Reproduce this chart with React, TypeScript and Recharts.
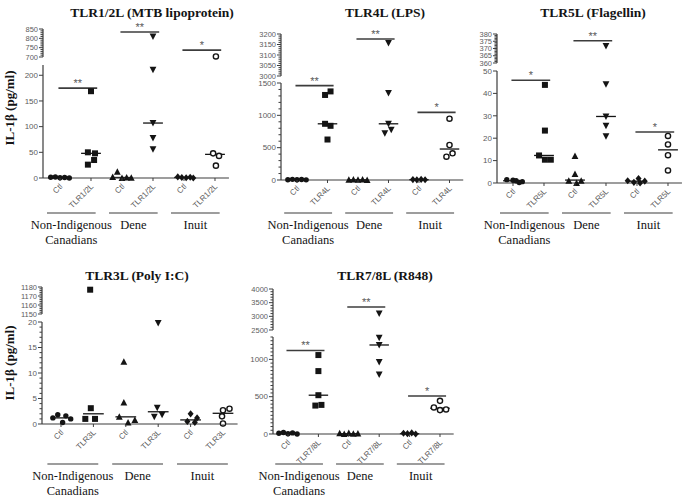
import React from "react";
import { ReferenceLine, Scatter, ScatterChart, XAxis, YAxis } from "recharts";

const INK = "#141414";
const AXIS = "#3c3c3c";
const LABEL = "#5c5c5c";
const SERIF = "'Liberation Serif', 'Times New Roman', serif";
const SANS = "'Liberation Sans', Arial, sans-serif";

const GROUPS = [["Non-Indigenous", "Canadians"], ["Dene"], ["Inuit"]];
const COLUMNS = [0, 1, 2, 3, 4, 5];
// Ctl / agonist for Non-Indigenous, Dene, Inuit
const MARKERS = ["dot", "square", "triangle", "down", "diamond", "ring"];
const X_END = 5.45;
const Y_W = 40;

// TLR1/2L (MTB lipoprotein)
const tlr12Values = [
  [1.5, 2, 0.5, 1, 0],
  [169, 50, 48, 35, 26],
  [12, 2, 0, 1, 0.5],
  [810, 211, 107, 78, 56],
  [2, 1, 0.5, 1.5, 0],
  [703, 48, 43, 24],
];
const tlr12Jitter = [
  [-0.3, -0.15, 0, 0.15, 0.3],
  [0, -0.1, 0.13, 0.1, -0.1],
  [-0.15, -0.3, 0, 0.15, 0.3],
  [0, 0, 0, 0, 0],
  [-0.2, -0.07, 0.07, 0.2, 0.3],
  [0.03, -0.06, 0.13, 0.03],
];
const tlr12Medians = [1, 48, 1, 107, 1, 46];
const tlr12Sig = [175, 834, 737];
const tlr12Stars = ["**", "**", "*"];
const tlr12UpperTicks = [700, 750, 800, 850];
const tlr12LowerTicks = [0, 50, 100, 150, 200];

// TLR4L (LPS)
const tlr4Values = [
  [5, 10, 3, 8, 2],
  [1370, 1315, 869, 838, 626],
  [4, 8, 2, 6, 0],
  [3157, 1345, 869, 776, 724],
  [6, 3, 9, 4],
  [948, 541, 413, 360],
];
const tlr4Jitter = [
  [-0.3, -0.15, 0, 0.15, 0.3],
  [0.1, -0.08, -0.08, 0.1, 0],
  [-0.3, -0.15, 0, 0.15, 0.3],
  [0, 0, 0, 0.09, -0.12],
  [-0.2, -0.07, 0.07, 0.2],
  [0, 0, 0.1, -0.1],
];
const tlr4Medians = [5, 869, 4, 869, 5, 479];
const tlr4Sig = [1459, 3176, 1046];
const tlr4Stars = ["**", "**", "*"];
const tlr4UpperTicks = [3000, 3050, 3100, 3150, 3200];
const tlr4LowerTicks = [0, 500, 1000, 1500];

// TLR5L (Flagellin)
const tlr5Values = [
  [1.5, 1.2, 1.0, 0.6, 0.2],
  [43.8, 23.4, 12.3, 10.4, 10.4],
  [12, 4, 1, 1, 0],
  [371.8, 44.1, 29.7, 25.6, 20.9],
  [1.0, 2.0, 0.3, 0, 0.8],
  [21, 17.2, 12.4, 5.6],
];
const tlr5Jitter = [
  [-0.2, 0, 0.1, 0.3, 0.2],
  [0.03, 0.03, -0.16, 0.03, 0.22],
  [0, 0, -0.2, 0.2, 0.05],
  [0, 0, 0, 0, 0],
  [-0.3, 0.05, -0.1, 0.1, 0.25],
  [0, 0, 0, 0],
];
const tlr5Medians = [1.0, 12.3, 1.3, 29.7, 0.8, 14.8];
const tlr5Sig = [45.9, 375.3, 22.8];
const tlr5Stars = ["*", "**", "*"];
const tlr5UpperTicks = [360, 365, 370, 375, 380];
const tlr5LowerTicks = [0, 10, 20, 30, 40, 50];

// TLR3L (Poly I:C)
const tlr3Values = [
  [1.8, 1.6, 1.2, 1.0, 0.3],
  [1177, 3.1, 1.0, 1.0],
  [12.2, 4.2, 1.4, 0.3, 0.8],
  [19.8, 3.2, 1.8, 1.4],
  [2.0, 1.2, 0.5, 0.3],
  [3.0, 2.7, 1.5, 0.1],
];
const tlr3Jitter = [
  [-0.1, 0.15, -0.25, 0.3, 0.05],
  [-0.1, -0.08, -0.25, 0.05],
  [-0.06, -0.06, -0.2, 0.07, 0.28],
  [0, -0.03, 0.12, -0.12],
  [0, 0.2, -0.1, 0.13],
  [0.2, 0, -0.03, 0],
];
const tlr3Medians = [1.2, 2.0, 1.4, 2.4, 0.8, 2.1];
const tlr3UpperTicks = [1150, 1160, 1170, 1180];
const tlr3LowerTicks = [0, 5, 10, 15, 20];

// TLR7/8L (R848)
const tlr78Values = [
  [10, 20, 5, 15, 0],
  [1058, 843, 520, 381, 390],
  [10, 0, 15, 5, 8],
  [3100, 1290, 1193, 964, 798],
  [10, 5, 15, 0],
  [444, 356, 329, 320],
];
const tlr78Jitter = [
  [-0.3, -0.15, 0, 0.15, 0.3],
  [0, 0, 0, -0.1, 0.1],
  [-0.3, -0.15, 0, 0.15, 0.3],
  [0, 0, 0, 0, 0],
  [-0.2, -0.07, 0.07, 0.2],
  [0, -0.2, 0.2, 0],
];
const tlr78Medians = [5, 520, 5, 1193, 5, 345];
const tlr78Sig = [1120, 3340, 510];
const tlr78Stars = ["**", "**", "*"];
const tlr78UpperTicks = [2500, 3000, 3500, 4000];
const tlr78LowerTicks = [0, 500, 1000];

type Cfg = {
  title: string;
  titleX: number;
  titleY: number;
  agonist: string;
  axisX: number;
  c0: number;
  sp: number;
  upper: number[];
  upperPx: number[];
  upperMajor: number[];
  upperMinor: number;
  lower: number[];
  lowerPx: number[];
  lowerMajor: number[];
  lowerMinor: number;
  values: number[][];
  jitter: number[][];
  medians: number[];
  sig: number[];
  stars: string[];
  groupY: number;
};

const PANELS: Cfg[] = [
  {
    title: "TLR1/2L (MTB lipoprotein)", titleX: 152, titleY: 17, agonist: "TLR1/2L",
    axisX: 43, c0: 60, sp: 31,
    upper: [700, 850], upperPx: [29, 57], upperMajor: tlr12UpperTicks, upperMinor: 10,
    lower: [0, 220], lowerPx: [65, 178], lowerMajor: tlr12LowerTicks, lowerMinor: 0,
    values: tlr12Values, jitter: tlr12Jitter, medians: tlr12Medians, sig: tlr12Sig, stars: tlr12Stars,
    groupY: 213,
  },
  {
    title: "TLR4L (LPS)", titleX: 385, titleY: 17, agonist: "TLR4L",
    axisX: 281, c0: 297, sp: 30.5,
    upper: [3000, 3200], upperPx: [34, 76], upperMajor: tlr4UpperTicks, upperMinor: 10,
    lower: [0, 1500], lowerPx: [83, 180], lowerMajor: tlr4LowerTicks, lowerMinor: 100,
    values: tlr4Values, jitter: tlr4Jitter, medians: tlr4Medians, sig: tlr4Sig, stars: tlr4Stars,
    groupY: 213,
  },
  {
    title: "TLR5L (Flagellin)", titleX: 593, titleY: 17, agonist: "TLR5L",
    axisX: 497, c0: 513, sp: 31,
    upper: [360, 380], upperPx: [34, 63], upperMajor: tlr5UpperTicks, upperMinor: 1,
    lower: [0, 50], lowerPx: [71, 183], lowerMajor: tlr5LowerTicks, lowerMinor: 0,
    values: tlr5Values, jitter: tlr5Jitter, medians: tlr5Medians, sig: tlr5Sig, stars: tlr5Stars,
    groupY: 213,
  },
  {
    title: "TLR3L (Poly I:C)", titleX: 137, titleY: 280, agonist: "TLR3L",
    axisX: 42, c0: 61, sp: 32.4,
    upper: [1150, 1180], upperPx: [287, 314], upperMajor: tlr3UpperTicks, upperMinor: 2,
    lower: [0, 20], lowerPx: [322, 424], lowerMajor: tlr3LowerTicks, lowerMinor: 1,
    values: tlr3Values, jitter: tlr3Jitter, medians: tlr3Medians, sig: [], stars: [],
    groupY: 464,
  },
  {
    title: "TLR7/8L (R848)", titleX: 385, titleY: 280, agonist: "TLR7/8L",
    axisX: 273, c0: 288, sp: 30.4,
    upper: [2500, 4000], upperPx: [289, 330], upperMajor: tlr78UpperTicks, upperMinor: 100,
    lower: [0, 1300], lowerPx: [337, 434], lowerMajor: tlr78LowerTicks, lowerMinor: 50,
    values: tlr78Values, jitter: tlr78Jitter, medians: tlr78Medians, sig: tlr78Sig, stars: tlr78Stars,
    groupY: 464,
  },
];

function axisTicks(major: number[], step: number, domain: number[]) {
  const all = [...major];
  if (step) {
    for (let v = domain[0]; v <= domain[1] + 1e-9; v += step) all.push(Math.round(v * 1000) / 1000);
  }
  return Array.from(new Set(all)).sort((a, b) => a - b);
}

function Marker({ kind, cx, cy }: { kind: string; cx: number; cy: number }) {
  const s = 3;
  if (kind === "dot") return <circle cx={cx} cy={cy} r={2.7} fill={INK} />;
  if (kind === "square") return <rect x={cx - s} y={cy - s} width={2 * s} height={2 * s} fill={INK} />;
  if (kind === "triangle")
    return <path d={`M${cx},${cy - s - 0.5}L${cx + s + 0.4},${cy + s}L${cx - s - 0.4},${cy + s}Z`} fill={INK} />;
  if (kind === "down")
    return <path d={`M${cx},${cy + s + 0.5}L${cx + s + 0.4},${cy - s}L${cx - s - 0.4},${cy - s}Z`} fill={INK} />;
  if (kind === "diamond")
    return <path d={`M${cx},${cy - s - 0.6}L${cx + s},${cy}L${cx},${cy + s + 0.6}L${cx - s},${cy}Z`} fill={INK} />;
  return <circle cx={cx} cy={cy} r={2.6} fill="#fff" stroke={INK} strokeWidth={1.4} />;
}

function YTick(props: any) {
  const { x, y, payload, major, small } = props;
  const isMajor = major.includes(payload.value);
  return (
    <g>
      <line x1={x - (isMajor ? 4 : 2.5)} x2={x} y1={y} y2={y} stroke={AXIS} strokeWidth={1} />
      {isMajor && (
        <text x={x - 5} y={y} dy="0.34em" textAnchor="end" fontSize={small ? 7.5 : 8} fill={LABEL} fontFamily={SANS}>
          {payload.value}
        </text>
      )}
    </g>
  );
}

function XTick(props: any) {
  const { x, y, payload, agonist } = props;
  const label = payload.value % 2 === 0 ? "Ctl" : agonist;
  const tx = x + 3;
  const ty = y + 9;
  return (
    <g>
      <line x1={x} x2={x} y1={y} y2={y + 3} stroke={AXIS} strokeWidth={1} />
      <text x={tx} y={ty} transform={`rotate(-45 ${tx} ${ty})`} textAnchor="end" fontSize={8} fill={LABEL} fontFamily={SANS}>
        {label}
      </text>
    </g>
  );
}

function Stars({ cx, cy, text }: { cx: number; cy: number; text: string }) {
  return (
    <text x={cx} y={cy - 1} textAnchor="middle" fontSize={11} fill={LABEL} fontFamily={SANS}>
      {text}
    </text>
  );
}

function PanelChart({ cfg, part }: { cfg: Cfg; part: "upper" | "lower" }) {
  const isLower = part === "lower";
  const domain = isLower ? cfg.lower : cfg.upper;
  const px = isLower ? cfg.lowerPx : cfg.upperPx;
  const major = isLower ? cfg.lowerMajor : cfg.upperMajor;
  const minor = isLower ? cfg.lowerMinor : cfg.upperMinor;
  const xStart = (cfg.axisX - cfg.c0) / cfg.sp;
  const plotW = (X_END - xStart) * cfg.sp;
  const padT = 10;
  const padB = isLower ? 44 : 6;
  const width = Y_W + plotW + 6;
  const height = padT + (px[1] - px[0]) + padB;
  const inPart = (v: number) => v >= domain[0] && v <= domain[1];

  return (
    <div style={{ position: "absolute", left: cfg.axisX - Y_W, top: px[0] - padT }}>
      <ScatterChart width={width} height={height} margin={{ top: padT, right: 6, bottom: isLower ? 0 : padB, left: 0 }}>
        <XAxis
          type="number"
          dataKey="x"
          domain={[xStart, X_END]}
          hide={!isLower}
          ticks={COLUMNS}
          interval={0}
          height={padB}
          tickSize={0}
          tickMargin={0}
          tickLine={false}
          axisLine={{ stroke: AXIS, strokeWidth: 1.2 }}
          tick={(p: any) => <XTick {...p} agonist={cfg.agonist} />}
        />
        <YAxis
          type="number"
          dataKey="y"
          domain={domain}
          ticks={axisTicks(major, minor, domain)}
          interval={0}
          width={Y_W}
          tickSize={0}
          tickMargin={0}
          tickLine={false}
          axisLine={{ stroke: AXIS, strokeWidth: 1.2 }}
          tick={(p: any) => <YTick {...p} major={major} small={!isLower} />}
        />
        {isLower &&
          cfg.medians.map((m, c) => (
            <ReferenceLine
              key={`m${c}`}
              segment={[{ x: c - 0.32, y: m }, { x: c + 0.32, y: m }]}
              stroke={INK}
              strokeWidth={1.3}
            />
          ))}
        {cfg.sig.map((v, g) =>
          inPart(v) ? (
            <ReferenceLine
              key={`s${g}`}
              segment={[{ x: 2 * g - 0.05, y: v }, { x: 2 * g + 1.2, y: v }]}
              stroke={AXIS}
              strokeWidth={1.6}
            />
          ) : null
        )}
        {cfg.sig.map((v, g) =>
          inPart(v) ? (
            <Scatter
              key={`t${g}`}
              data={[{ x: 2 * g + 0.575, y: v }]}
              isAnimationActive={false}
              shape={(p: any) => <Stars cx={p.cx} cy={p.cy} text={cfg.stars[g]} />}
            />
          ) : null
        )}
        {COLUMNS.map((c) => {
          const pts = cfg.values[c]
            .map((v, i) => ({ x: c + cfg.jitter[c][i], y: v }))
            .filter((p) => inPart(p.y));
          return (
            <Scatter
              key={`c${c}`}
              data={pts}
              isAnimationActive={false}
              shape={(p: any) => <Marker kind={MARKERS[c]} cx={p.cx} cy={p.cy} />}
            />
          );
        })}
      </ScatterChart>
    </div>
  );
}

function Overlay() {
  return (
    <svg width={685} height={497} style={{ position: "absolute", left: 0, top: 0, pointerEvents: "none" }}>
      {PANELS.map((cfg, k) => (
        <g key={k}>
          <text x={cfg.titleX} y={cfg.titleY} textAnchor="middle" fontFamily={SERIF} fontWeight="bold" fontSize={13.5} fill={INK}>
            {cfg.title}
          </text>
          {GROUPS.map((lines, g) => {
            const x1 = cfg.c0 + (2 * g - 0.42) * cfg.sp;
            const x2 = cfg.c0 + (2 * g + 1.15) * cfg.sp;
            return (
              <g key={g}>
                <line x1={x1} x2={x2} y1={cfg.groupY} y2={cfg.groupY} stroke={AXIS} strokeWidth={1.2} />
                {lines.map((t, i) => (
                  <text key={i} x={(x1 + x2) / 2} y={cfg.groupY + 16 + i * 15} textAnchor="middle" fontFamily={SERIF} fontSize={12.5} fill={INK}>
                    {t}
                  </text>
                ))}
              </g>
            );
          })}
        </g>
      ))}
      {[108, 363].map((cy) => (
        <text key={cy} transform={`translate(14 ${cy}) rotate(-90)`} textAnchor="middle" fontFamily={SERIF} fontWeight="bold" fontSize={13} fill={INK}>
          IL-1β (pg/ml)
        </text>
      ))}
    </svg>
  );
}

export default function App() {
  return (
    <div style={{ position: "absolute", left: 0, top: 0, width: 685, height: 497, background: "#fff" }}>
      {PANELS.map((cfg, k) => (
        <React.Fragment key={k}>
          <PanelChart cfg={cfg} part="upper" />
          <PanelChart cfg={cfg} part="lower" />
        </React.Fragment>
      ))}
      <Overlay />
    </div>
  );
}
